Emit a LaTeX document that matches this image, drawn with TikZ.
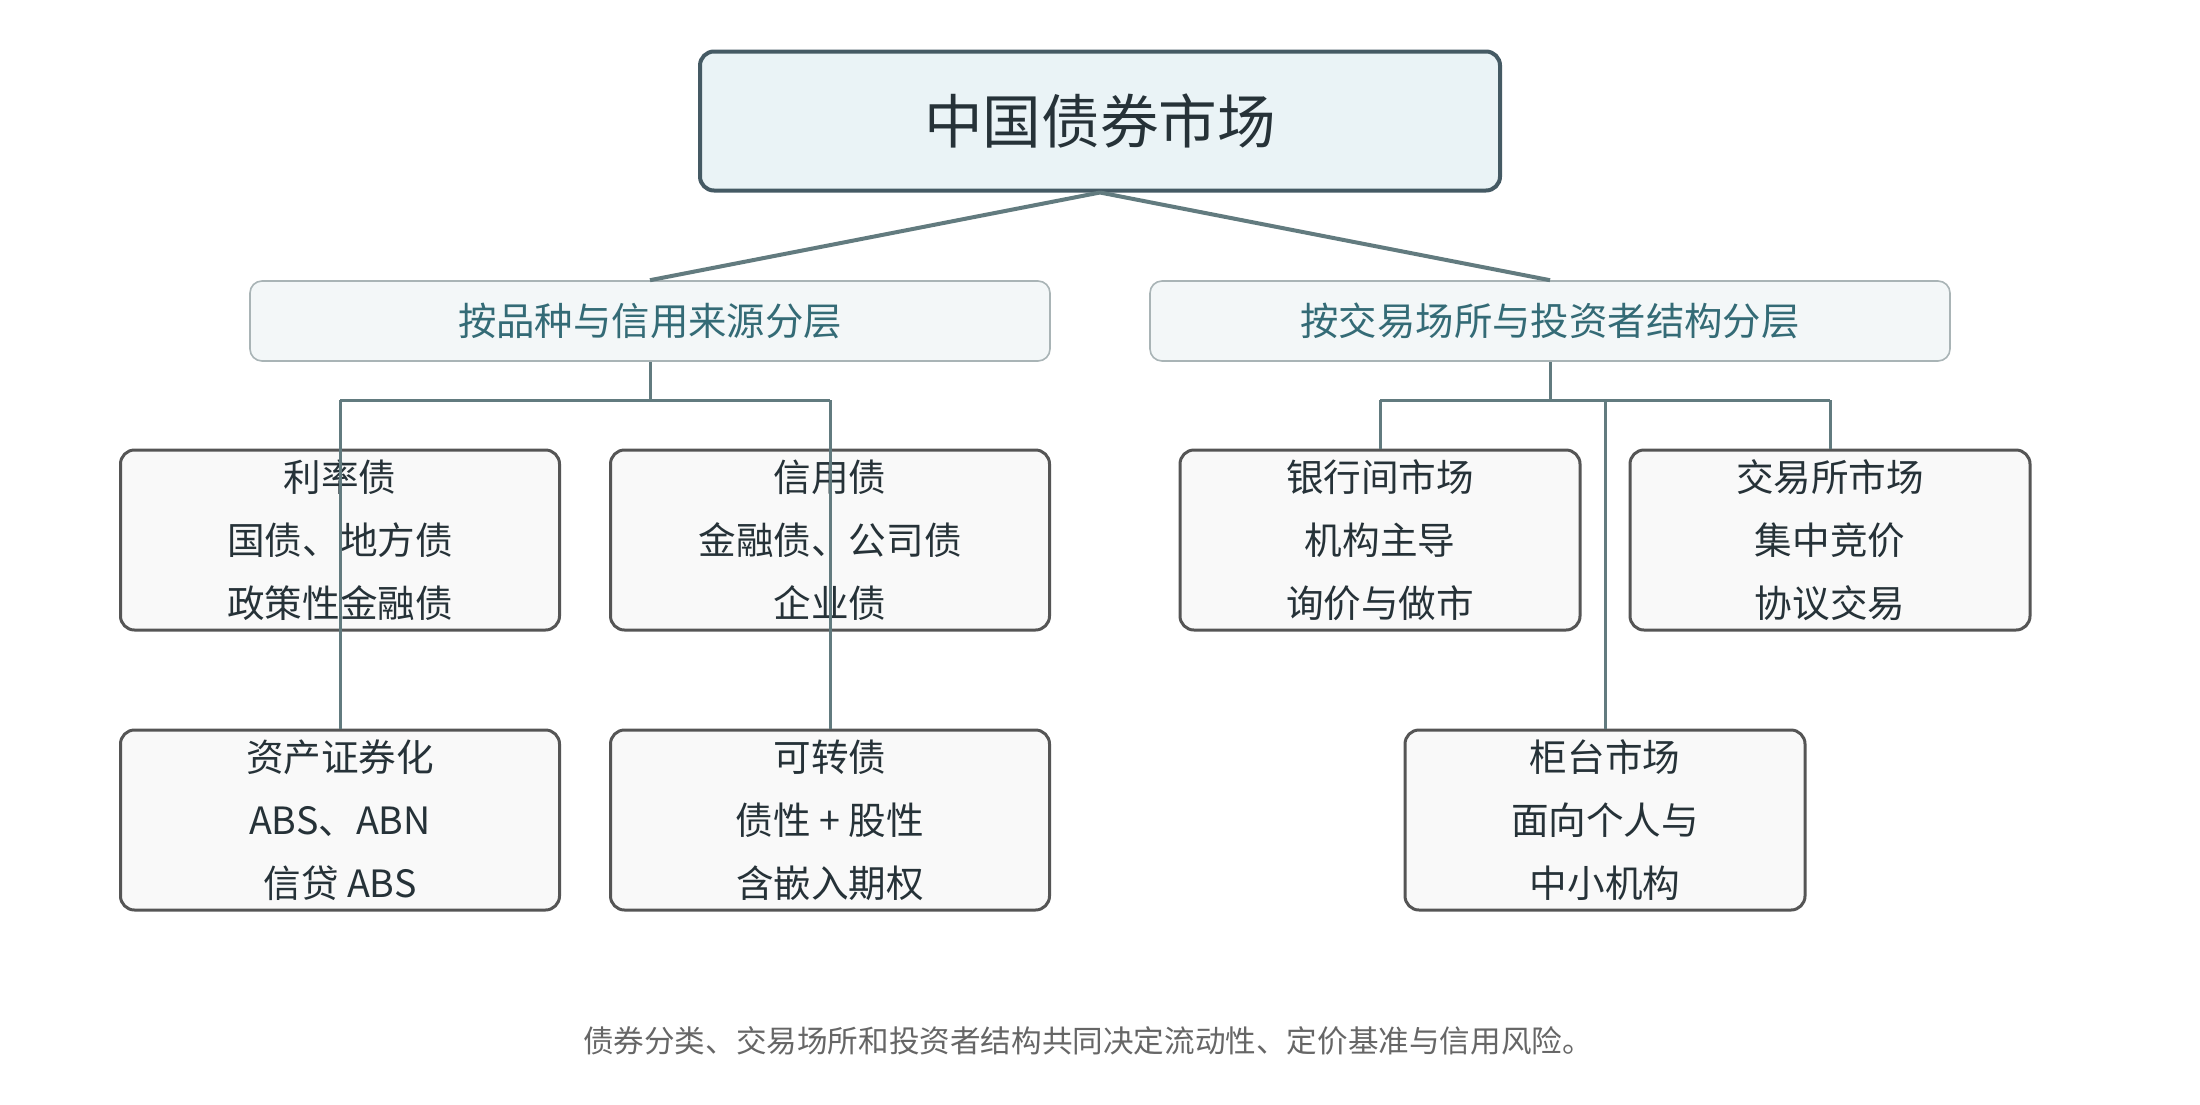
\documentclass[tikz,border=0pt]{standalone}
\usepackage{fontspec}
\setmainfont{Noto Sans CJK SC}
\definecolor{topfill}{HTML}{EAF3F6}
\definecolor{topdraw}{HTML}{455A64}
\definecolor{toptext}{HTML}{263238}
\definecolor{midfill}{HTML}{F3F7F8}
\definecolor{middraw}{HTML}{A9B4B6}
\definecolor{midtext}{HTML}{346B76}
\definecolor{leaffill}{HTML}{F9F9F9}
\definecolor{leafdraw}{HTML}{555555}
\definecolor{linkcol}{HTML}{627B7F}
\definecolor{captext}{HTML}{666666}
\tikzset{
  topbox/.style={draw=topdraw, line width=2pt, fill=topfill, rounded corners=7pt,
    minimum width=400pt, minimum height=69.5pt, inner sep=0pt, text=toptext,
    font=\fontsize{29.3}{34}\selectfont},
  midbox/.style={draw=middraw, line width=0.8pt, fill=midfill, rounded corners=6pt,
    minimum width=400pt, minimum height=40pt, inner sep=0pt, text=midtext,
    font=\fontsize{19.2}{23}\selectfont},
  leafbox/.style={draw=leafdraw, line width=1.5pt, fill=leaffill, rounded corners=7pt,
    minimum height=90pt, inner sep=0pt, text=toptext, align=center,
    font=\fontsize{18.8}{31.5}\selectfont},
  link/.style={draw=linkcol, line width=1.5pt},
  biglink/.style={draw=linkcol, line width=2pt},
}
\begin{document}
\begin{tikzpicture}[x=0.5pt,y=-0.5pt]
\useasboundingbox (0,0) rectangle (2200,1104);
\fill[white] (0,0) rectangle (2200,1104);
% nodes
\node[topbox] (root) at (1100,121) {中国债券市场};
\node[midbox] (catA) at (650,321) {按品种与信用来源分层};
\node[midbox] (catB) at (1550,321) {按交易场所与投资者结构分层};
\node[leafbox, minimum width=219.5pt] (rate) at (340,540) {利率债\\国债、地方债\\政策性金融债};
\node[leafbox, minimum width=219.5pt] (credit) at (830,540) {信用债\\金融债、公司债\\企业债};
\node[leafbox, minimum width=219.5pt] (abs) at (340,820) {资产证券化\\ABS、ABN\\信贷 ABS};
\node[leafbox, minimum width=219.5pt] (conv) at (830,820) {可转债\\债性 + 股性\\含嵌入期权};
\node[leafbox, minimum width=200pt] (inter) at (1380,540) {银行间市场\\机构主导\\询价与做市};
\node[leafbox, minimum width=200pt] (exch) at (1830,540) {交易所市场\\集中竞价\\协议交易};
\node[leafbox, minimum width=200pt] (otc) at (1605,820) {柜台市场\\面向个人与\\中小机构};
\node[text=captext, font=\fontsize{15.3}{18}\selectfont] (cap) at (1088,1041) {债券分类、交易场所和投资者结构共同决定流动性、定价基准与信用风险。};
% junction coordinates
\coordinate (jA) at (650,400);
\coordinate (jAl) at (340,400);
\coordinate (jAr) at (830,400);
\coordinate (jB) at (1550,400);
\coordinate (jBl) at (1380,400);
\coordinate (jBm) at (1605,400);
\coordinate (jBr) at (1830,400);
% connectors
\draw[biglink] (root.south) -- (catA.north);
\draw[biglink] (root.south) -- (catB.north);
\draw[link] (catA.south) -- (jA);
\draw[link] (jAl) -- (jAr);
\draw[link] (jAl) -- (abs.north);
\draw[link] (jAr) -- (conv.north);
\draw[link] (catB.south) -- (jB);
\draw[link] (jBl) -- (jBr);
\draw[link] (jBl) -- (inter.north);
\draw[link] (jBr) -- (exch.north);
\draw[link] (jBm) -- (otc.north);
\end{tikzpicture}
\end{document}
